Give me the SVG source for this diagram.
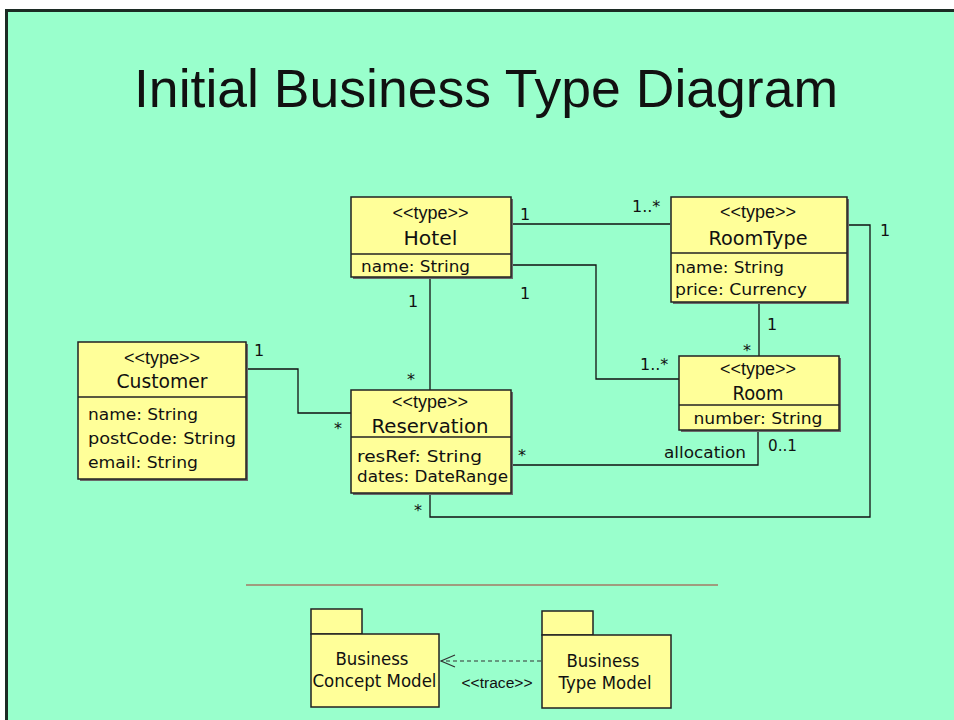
<svg xmlns="http://www.w3.org/2000/svg" width="954" height="720" viewBox="0 0 954 720">
<style>
.box{fill:#FFFF99;stroke:#222;stroke-width:1.5}
.sh{fill:#6a6a6a}
.div{stroke:#222;stroke-width:1.5}
.t{font-family:"DejaVu Sans",sans-serif;fill:#111}
.st{font-family:"Liberation Sans",Arial,sans-serif;font-size:18px}
.nm{font-size:19px}
.at{font-size:16px}
.lb{font-family:"DejaVu Sans",sans-serif;font-size:16px;fill:#111}
.conn{fill:none;stroke:#111;stroke-width:1.3}
.pk{font-family:"DejaVu Sans",sans-serif;font-size:17px;fill:#111}
</style>
<rect x="0" y="0" width="954" height="720" fill="#ffffff"/>
<rect x="5" y="9" width="949" height="711" fill="#1c2b24"/>
<rect x="8" y="12" width="946" height="708" fill="#99FFCC"/>
<text x="486" y="107" text-anchor="middle" font-family="Liberation Sans, Arial, sans-serif" font-size="53" fill="#111" textLength="704" lengthAdjust="spacingAndGlyphs">Initial Business Type Diagram</text>

<g id="connectors">
<polyline class="conn" points="511,224 670,224"/>
<polyline class="conn" points="511,265 596,265 596,379 679,379"/>
<polyline class="conn" points="430,277 430,390"/>
<polyline class="conn" points="759,302 759,356"/>
<polyline class="conn" points="847,225 870,225 870,517 430,517 430,493"/>
<polyline class="conn" points="247,369 298,369 298,413 351,413"/>
<polyline class="conn" points="511,465 758,465 758,429"/>
<text class="lb" x="520" y="220">1</text>
<text class="lb" x="632" y="212">1..*</text>
<text class="lb" x="520" y="299">1</text>
<text class="lb" x="640" y="370">1..*</text>
<text class="lb" x="408" y="307">1</text>
<text class="lb" x="407" y="385">*</text>
<text class="lb" x="767" y="330">1</text>
<text class="lb" x="743" y="356">*</text>
<text class="lb" x="880" y="236">1</text>
<text class="lb" x="414" y="516">*</text>
<text class="lb" x="254" y="356">1</text>
<text class="lb" x="334" y="434">*</text>
<text class="lb" x="518" y="461">*</text>
<text class="lb" x="664" y="458" textLength="82" lengthAdjust="spacingAndGlyphs">allocation</text>
<text class="lb" x="768" y="451" textLength="29" lengthAdjust="spacingAndGlyphs">0..1</text>
</g>

<g id="Hotel">
<rect class="sh" x="353" y="199" width="160" height="80"/>
<rect class="box" x="351" y="197" width="160" height="80"/>
<line class="div" x1="351" y1="254" x2="511" y2="254"/>
<text class="t st" x="430.5" y="219" text-anchor="middle" textLength="76" lengthAdjust="spacingAndGlyphs">&lt;&lt;type&gt;&gt;</text>
<text class="t nm" x="430.5" y="245" text-anchor="middle" textLength="54" lengthAdjust="spacingAndGlyphs">Hotel</text>
<text class="t at" x="361" y="272" textLength="109" lengthAdjust="spacingAndGlyphs">name: String</text>
</g>

<g id="RoomType">
<rect class="sh" x="673" y="199" width="176" height="105"/>
<rect class="box" x="671" y="197" width="176" height="105"/>
<line class="div" x1="671" y1="253" x2="847" y2="253"/>
<text class="t st" x="758" y="218" text-anchor="middle" textLength="76" lengthAdjust="spacingAndGlyphs">&lt;&lt;type&gt;&gt;</text>
<text class="t nm" x="758" y="245" text-anchor="middle" textLength="99" lengthAdjust="spacingAndGlyphs">RoomType</text>
<text class="t at" x="675" y="273" textLength="109" lengthAdjust="spacingAndGlyphs">name: String</text>
<text class="t at" x="675" y="295" textLength="132" lengthAdjust="spacingAndGlyphs">price: Currency</text>
</g>

<g id="Customer">
<rect class="sh" x="80" y="344" width="168" height="137"/>
<rect class="box" x="78" y="342" width="168" height="137"/>
<line class="div" x1="78" y1="397" x2="246" y2="397"/>
<text class="t st" x="162" y="364" text-anchor="middle" textLength="76" lengthAdjust="spacingAndGlyphs">&lt;&lt;type&gt;&gt;</text>
<text class="t nm" x="162" y="388" text-anchor="middle" textLength="91" lengthAdjust="spacingAndGlyphs">Customer</text>
<text class="t at" x="88" y="420" textLength="110" lengthAdjust="spacingAndGlyphs">name: String</text>
<text class="t at" x="88" y="444" textLength="148" lengthAdjust="spacingAndGlyphs">postCode: String</text>
<text class="t at" x="88" y="468" textLength="110" lengthAdjust="spacingAndGlyphs">email: String</text>
</g>

<g id="Reservation">
<rect class="sh" x="353" y="392" width="160" height="103"/>
<rect class="box" x="351" y="390" width="160" height="103"/>
<line class="div" x1="351" y1="437" x2="511" y2="437"/>
<text class="t st" x="430" y="408" text-anchor="middle" textLength="76" lengthAdjust="spacingAndGlyphs">&lt;&lt;type&gt;&gt;</text>
<text class="t nm" x="430" y="433" text-anchor="middle" textLength="117" lengthAdjust="spacingAndGlyphs">Reservation</text>
<text class="t at" x="357" y="462" textLength="125" lengthAdjust="spacingAndGlyphs">resRef: String</text>
<text class="t at" x="357" y="482" textLength="151" lengthAdjust="spacingAndGlyphs">dates: DateRange</text>
</g>

<g id="Room">
<rect class="sh" x="681" y="358" width="160" height="74"/>
<rect class="box" x="679" y="356" width="160" height="74"/>
<line class="div" x1="679" y1="405" x2="839" y2="405"/>
<text class="t st" x="758" y="375" text-anchor="middle" textLength="76" lengthAdjust="spacingAndGlyphs">&lt;&lt;type&gt;&gt;</text>
<text class="t nm" x="758" y="400" text-anchor="middle" textLength="51" lengthAdjust="spacingAndGlyphs">Room</text>
<text class="t at" x="758" y="424" text-anchor="middle" textLength="129" lengthAdjust="spacingAndGlyphs">number: String</text>
</g>

<line x1="246" y1="585" x2="718" y2="585" stroke="#a83a30" stroke-width="1.2"/>

<g id="BusinessConceptModel">
<rect class="box" x="311" y="609" width="51" height="25" stroke-width="1.2"/>
<rect class="box" x="311" y="634" width="128" height="73" stroke-width="1.2"/>
<text class="pk" x="372" y="665" text-anchor="middle" textLength="73" lengthAdjust="spacingAndGlyphs">Business</text>
<text class="pk" x="374.5" y="687" text-anchor="middle" textLength="124" lengthAdjust="spacingAndGlyphs">Concept Model</text>
</g>

<g id="BusinessTypeModel">
<rect class="box" x="542" y="611" width="51" height="24" stroke-width="1.2"/>
<rect class="box" x="542" y="635" width="129" height="73" stroke-width="1.2"/>
<text class="pk" x="603" y="667" text-anchor="middle" textLength="73" lengthAdjust="spacingAndGlyphs">Business</text>
<text class="pk" x="605" y="689" text-anchor="middle" textLength="93" lengthAdjust="spacingAndGlyphs">Type Model</text>
</g>

<g id="trace">
<line x1="541" y1="661" x2="441" y2="661" stroke="#333" stroke-width="1.2" stroke-dasharray="4,3"/>
<polyline points="455,655 441,661 455,667" fill="none" stroke="#333" stroke-width="1.2"/>
<text x="497" y="688" text-anchor="middle" font-family="Liberation Sans, Arial, sans-serif" font-size="14" fill="#111" textLength="71" lengthAdjust="spacingAndGlyphs">&lt;&lt;trace&gt;&gt;</text>
</g>
</svg>
